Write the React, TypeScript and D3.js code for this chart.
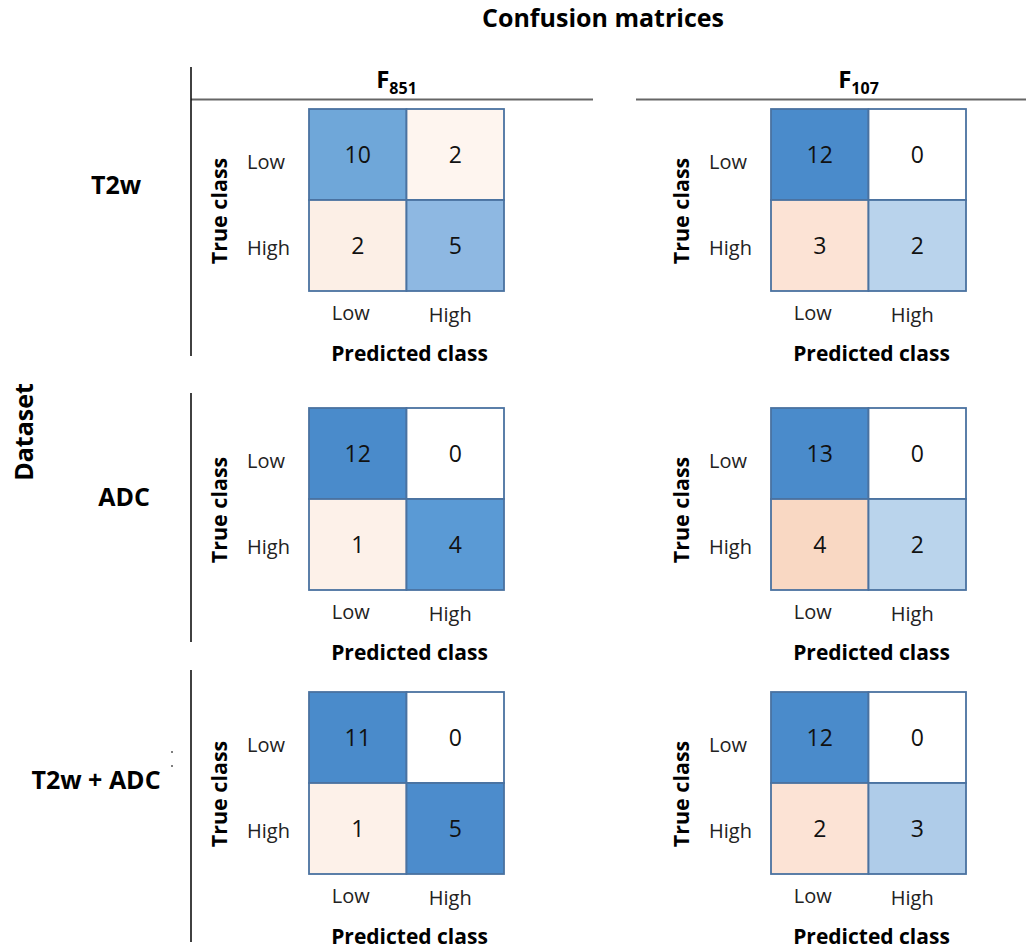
import React from "react";
import * as d3 from "d3";

// ---- data ----
const datasets = ["T2w", "ADC", "T2w + ADC"];
const featureSets = ["851", "107"];
const classes = ["Low", "High"];
// values[featureSet] = [[TL, TR],[BL, BR]] (rows = true class, cols = predicted)
const valuesT2w = [
  [[10, 2], [2, 5]],
  [[12, 0], [3, 2]],
];
const valuesADC = [
  [[12, 0], [1, 4]],
  [[13, 0], [4, 2]],
];
const valuesT2wADC = [
  [[11, 0], [1, 5]],
  [[12, 0], [2, 3]],
];
const allValues = [valuesT2w, valuesADC, valuesT2wADC];

// ---- styles (cell fill colours, same layout as values) ----
const fillsT2w = [
  [["#6fa7d9", "#fef5ef"], ["#fcefe6", "#8eb8e2"]],
  [["#4a8bcb", "#ffffff"], ["#fce3d5", "#b9d3ec"]],
];
const fillsADC = [
  [["#4a8bcb", "#ffffff"], ["#fdf1e9", "#5a9ad5"]],
  [["#4a8bcb", "#ffffff"], ["#f9d8c3", "#bad4ec"]],
];
const fillsT2wADC = [
  [["#4a8bcb", "#ffffff"], ["#fdf1e9", "#4c8ccc"]],
  [["#4a8bcb", "#ffffff"], ["#fce3d5", "#afcce9"]],
];
const allFills = [fillsT2w, fillsADC, fillsT2wADC];

const W = 1026;
const H = 951;
const FONT = "'Open Sans', Lato, sans-serif";

const colScale = d3.scaleOrdinal<string, number>().domain(featureSets).range([309, 771]);
const rowScale = d3.scaleOrdinal<string, number>().domain(datasets).range([109, 408, 692]);
const MW = 195;
const MH = 182;
const xBand = d3.scaleBand<string>().domain(classes).range([0, MW]);
const yBand = d3.scaleBand<string>().domain(classes).range([0, MH]);

const rowLabelX = [116, 124, 96];
const rowLabelY = [194, 506, 789];
const vLines = [
  [67, 356],
  [393, 642],
  [670, 942],
];

function Matrix({ di, fi }: { di: number; fi: number }) {
  const mx = colScale(featureSets[fi]);
  const my = rowScale(datasets[di]);
  const vals = allValues[di][fi];
  const fills = allFills[di][fi];
  return (
    <g transform={`translate(${mx},${my})`}>
      {classes.map((tc, r) =>
        classes.map((pc, c) => (
          <g key={`${r}-${c}`}>
            <rect
              x={xBand(pc)!}
              y={yBand(tc)!}
              width={xBand.bandwidth()}
              height={yBand.bandwidth()}
              fill={fills[r][c]}
              stroke="#4a72a0"
              strokeWidth={1.8}
            />
            <text
              x={xBand(pc)! + xBand.bandwidth() / 2}
              y={yBand(tc)! + yBand.bandwidth() / 2 + 8}
              textAnchor="middle"
              fontSize={23}
              fill="#111"
            >
              {vals[r][c]}
            </text>
          </g>
        ))
      )}
      {classes.map((tc, r) => (
        <text
          key={`rl-${tc}`}
          x={-62}
          y={yBand(tc)! + yBand.bandwidth() / 2 + (r === 0 ? 14 : 9)}
          fontSize={20}
          fill="#222"
        >
          {tc}
        </text>
      ))}
      {classes.map((pc, c) => (
        <text
          key={`cl-${pc}`}
          x={xBand(pc)! + xBand.bandwidth() / 2 - 7 + c * 2}
          y={MH + 29 + c * 2}
          textAnchor="middle"
          fontSize={20}
          fill="#222"
        >
          {pc}
        </text>
      ))}
      <text
        x={MW / 2 + 3}
        y={MH + 70}
        textAnchor="middle"
        fontSize={21}
        fontWeight="bold"
        fill="#000"
      >
        Predicted class
      </text>
      <text
        transform={`translate(${-82},${MH / 2 + 11}) rotate(-90)`}
        textAnchor="middle"
        fontSize={21.5}
        fontWeight="bold"
        fill="#000"
      >
        True class
      </text>
    </g>
  );
}

export default function App() {
  return (
    <svg
      width={W}
      height={H}
      style={{ position: "absolute", left: 0, top: 0, background: "#fff" }}
      fontFamily={FONT}
    >
      <rect width={W} height={H} fill="#fff" />
      <text x={603} y={27} textAnchor="middle" fontSize={25} fontWeight="bold" fill="#000">
        Confusion matrices
      </text>

      {/* column headers */}
      {featureSets.map((f) => (
        <text
          key={f}
          x={colScale(f) + MW / 2 - 10}
          y={88}
          textAnchor="middle"
          fontWeight="bold"
          fill="#000"
        >
          <tspan fontSize={24}>F</tspan>
          <tspan fontSize={16} dy={6}>
            {f}
          </tspan>
        </text>
      ))}
      <line x1={191} x2={593} y1={99.5} y2={99.5} stroke="#666" strokeWidth={2} />
      <line x1={636} x2={1026} y1={99.5} y2={99.5} stroke="#666" strokeWidth={2} />

      {/* row separators */}
      {vLines.map(([a, b], i) => (
        <line key={i} x1={191} x2={191} y1={a} y2={b} stroke="#111" strokeWidth={1.6} />
      ))}

      {/* row labels */}
      {datasets.map((d, i) => (
        <text
          key={d}
          x={rowLabelX[i]}
          y={rowLabelY[i]}
          textAnchor="middle"
          fontSize={25}
          fontWeight="bold"
          fill="#000"
        >
          {d}
        </text>
      ))}
      <circle cx={172} cy={752} r={1} fill="#555" />
      <circle cx={172} cy={766} r={1} fill="#555" />

      <text
        transform="translate(33,432) rotate(-90)"
        textAnchor="middle"
        fontSize={25}
        fontWeight="bold"
        fill="#000"
      >
        Dataset
      </text>

      {datasets.map((d, di) =>
        featureSets.map((f, fi) => <Matrix key={`${d}-${f}`} di={di} fi={fi} />)
      )}
    </svg>
  );
}
